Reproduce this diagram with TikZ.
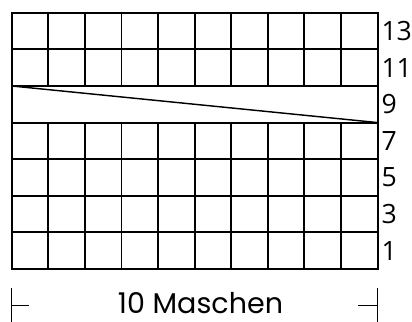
\documentclass[tikz,border=0pt]{standalone}
\usepackage{fontspec}
\setsansfont{Open Sans}
\newfontfamily\handfont{Poppins}
\usetikzlibrary{positioning}

\begin{document}
\begin{tikzpicture}[
  x=0.968cm, y=0.968cm,
  font=\sffamily,
  gridline/.style={line width=1.4pt, line cap=rect},
  slope/.style={line width=1.1pt},
  rowlabel/.style={anchor=west, inner sep=0pt, font=\sffamily\fontsize{20}{20}\selectfont},
  widthlabel/.style={inner sep=0pt, font=\handfont\fontsize{21.5}{21.5}\selectfont},
  tick/.style={line width=1.1pt}
]
\useasboundingbox (-0.32,-1.448) rectangle (10.94,7.35);

% stitches below and above the short row
\foreach \x in {0,...,10} {
  \draw[gridline] (\x,0) -- (\x,4);
  \draw[gridline] (\x,5) -- (\x,7);
}
\foreach \y in {0,...,7}
  \draw[gridline] (0,\y) -- (10,\y);
\draw[gridline] (0,4) -- (0,5);
\draw[gridline] (10,4) -- (10,5);
\draw[slope] (0,5) -- (10,4);

% row numbers
\foreach \r [count=\i] in {1,3,5,7,9,11,13}
  \node[rowlabel] (row\r) at (10.1,\i-0.5) {\r};

% width
\node[widthlabel] (width) at (5.16,-0.93) {10 Maschen};
\coordinate (ltop) at (0,-0.52);
\coordinate (lbot) at (0,-1.448);
\coordinate (lmid) at (0,-1.0);
\coordinate (lend) at (0.47,-1.0);
\coordinate (rtop) at (10,-0.52);
\coordinate (rbot) at (10,-1.448);
\coordinate (rmid) at (10,-1.0);
\coordinate (rend) at (9.46,-1.0);
\draw[tick] (ltop) -- (lbot);
\draw[tick] (lmid) -- (lend);
\draw[tick] (rtop) -- (rbot);
\draw[tick] (rmid) -- (rend);

\end{tikzpicture}
\end{document}
